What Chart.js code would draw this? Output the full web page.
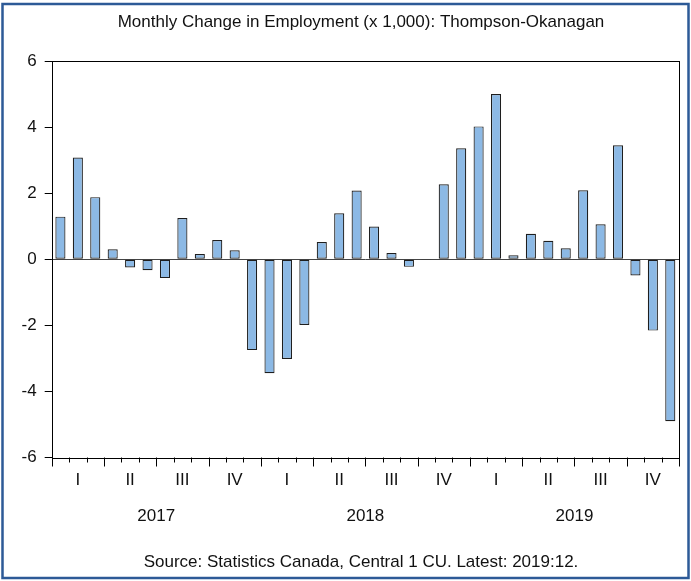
<!DOCTYPE html>
<html>
<head>
<meta charset="utf-8">
<title>Monthly Change in Employment: Thompson-Okanagan</title>
<script src="https://cdn.jsdelivr.net/npm/chart.js@4.4.1/dist/chart.umd.min.js"></script>
<style>
  body { margin: 0; background: #fff; }
  canvas { display: block; }
</style>
</head>
<body>
<canvas id="chart" width="691" height="581"></canvas>
<script>
// monthly change in employment, thousands (Jan 2017 .. Dec 2019)
const years = ['2017', '2018', '2019'];
const quarters = ['I', 'II', 'III', 'IV'];
const months = ['01', '02', '03', '04', '05', '06', '07', '08', '09', '10', '11', '12'];
const changes = [
  1.29, 3.08, 1.88, 0.30, -0.25, -0.33, -0.57, 1.25, 0.16, 0.58, 0.27, -2.75,
  -3.45, -3.02, -1.99, 0.52, 1.39, 2.08, 0.99, 0.19, -0.23, -0.02, 2.27, 3.36,
  4.02, 5.00, 0.12, 0.77, 0.56, 0.33, 2.09, 1.06, 3.45, -0.49, -2.16, -4.90
];
const yTicks = [-6, -4, -2, 0, 2, 4, 6];

const titleText = 'Monthly Change in Employment (x 1,000): Thompson-Okanagan';
const sourceText = 'Source: Statistics Canada, Central 1 CU. Latest: 2019:12.';

const labels = [];
years.forEach(yr => months.forEach(m => labels.push(yr + ':' + m)));

const FONT = '"Liberation Sans", Arial, sans-serif';
const TEXT = '#111';

const decorations = {
  id: 'decorations',
  beforeDatasetsDraw(chart) {
    const { ctx, chartArea: a, scales: { y } } = chart;
    const y0 = Math.round(y.getPixelForValue(0)) + 0.5;
    ctx.save();
    ctx.strokeStyle = '#444';
    ctx.lineWidth = 1;
    ctx.beginPath();
    ctx.moveTo(a.left, y0);
    ctx.lineTo(a.right, y0);
    ctx.stroke();
    ctx.restore();
  },
  afterDraw(chart) {
    const { ctx, chartArea: a, scales: { x } } = chart;
    ctx.save();

    // plot box
    ctx.strokeStyle = '#000';
    ctx.lineWidth = 1;
    ctx.strokeRect(Math.round(a.left) + 0.5, Math.round(a.top) + 0.5,
      Math.round(a.right - a.left), Math.round(a.bottom - a.top));

    // month ticks, longer at quarter boundaries
    const n = labels.length;
    ctx.beginPath();
    for (let i = 0; i <= n; i++) {
      let px;
      if (i === 0) px = a.left;
      else if (i === n) px = a.right;
      else px = (x.getPixelForValue(i - 1) + x.getPixelForValue(i)) / 2;
      px = Math.round(px) + 0.5;
      const len = i % 3 === 0 ? 9 : 5;
      ctx.moveTo(px, a.bottom);
      ctx.lineTo(px, a.bottom + len);
    }
    ctx.stroke();

    // year labels, centred under each year
    ctx.fillStyle = TEXT;
    ctx.font = '17px ' + FONT;
    ctx.textAlign = 'center';
    ctx.textBaseline = 'middle';
    years.forEach((yr, k) => {
      const cx = (x.getPixelForValue(k * 12 + 5) + x.getPixelForValue(k * 12 + 6)) / 2;
      ctx.fillText(yr, cx, 516);
    });

    // title and source
    const mid = 361;
    ctx.fillText(titleText, mid, 22);
    ctx.fillText(sourceText, mid, 562);

    // outer frame
    ctx.strokeStyle = '#2d5a97';
    ctx.lineWidth = 2.5;
    ctx.strokeRect(2.5, 4, 686, 574);
    ctx.restore();
  }
};

new Chart(document.getElementById('chart'), {
  type: 'bar',
  data: {
    labels: labels,
    datasets: [{
      data: changes,
      backgroundColor: '#8cb9e5',
      borderColor: '#1e1e1e',
      borderWidth: 1.2,
      borderSkipped: false,
      barPercentage: 0.58,
      categoryPercentage: 1.0
    }]
  },
  options: {
    responsive: false,
    animation: false,
    layout: { padding: { top: 61, right: 12, bottom: 0, left: 3.7 } },
    plugins: {
      legend: { display: false },
      tooltip: { enabled: false }
    },
    scales: {
      x: {
        offset: true,
        grid: { display: false, drawTicks: false },
        border: { display: false },
        ticks: {
          autoSkip: false,
          maxRotation: 0,
          padding: 13,
          color: TEXT,
          font: { family: FONT, size: 17 },
          callback: (v, i) => (i % 3 === 1 ? quarters[Math.floor(i / 3) % 4] : '')
        },
        afterFit: s => { s.height = 123.5; }
      },
      y: {
        min: yTicks[0],
        max: yTicks[yTicks.length - 1],
        afterBuildTicks: s => { s.ticks = yTicks.map(v => ({ value: v })); },
        grid: { drawOnChartArea: false, drawTicks: true, tickLength: 7, color: '#000' },
        border: { display: false },
        ticks: {
          padding: 8,
          color: TEXT,
          font: { family: FONT, size: 17 }
        },
        afterFit: s => { s.width = 48; }
      }
    }
  },
  plugins: [decorations]
});
</script>
</body>
</html>
